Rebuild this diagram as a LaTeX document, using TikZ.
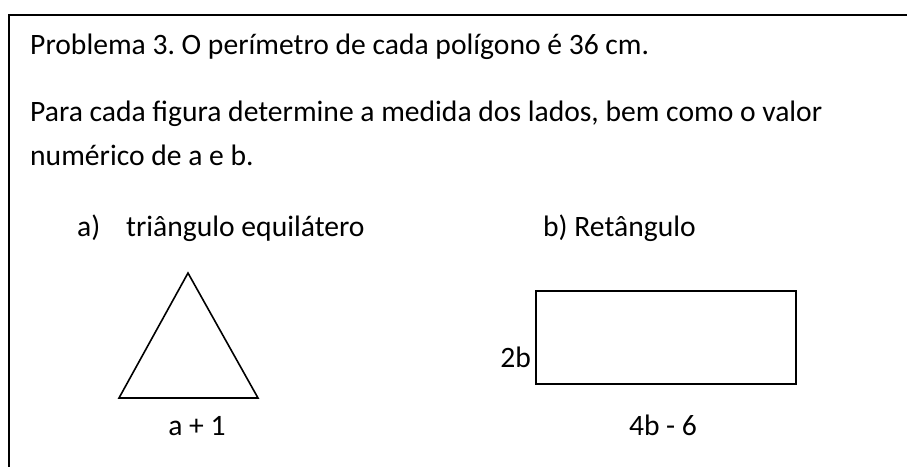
\documentclass[tikz,border=0pt]{standalone}
\usepackage{fontspec}
\setmainfont{Carlito}
\usetikzlibrary{positioning}
\frenchspacing

\begin{document}
\begin{tikzpicture}[x=1pt, y=-1pt,
    txt/.style={anchor=base west, inner sep=0pt, font=\fontsize{29.6}{36}\selectfont},
    lbl/.style={anchor=base, inner sep=0pt, font=\fontsize{29.6}{36}\selectfont},
    frame line/.style={line width=2.2pt},
    shape line/.style={line width=1.6pt, line join=miter}]

\useasboundingbox (0,0) rectangle (907,466);

% frame, cut off at right and bottom
\coordinate (frame bl) at (9,467);
\coordinate (frame tl) at (9,15);
\coordinate (frame tr) at (908,15);
\draw[frame line] (frame bl) -- (frame tl) -- (frame tr);

% statement
\node[txt] (title) at (30,54) {Problema 3. O perímetro de cada polígono é 36 cm.};
\node[txt] (task1) at (30,121) {Para cada figura determine a medida dos lados, bem como o valor};
\node[txt] (task2) at (30,165) {numérico de a e b.};
\node[txt] (item a) at (77,236) {a)};
\node[txt] (name a) at (126,236) {triângulo equilátero};
\node[txt] (item b) at (543,236) {b) Retângulo};

% triangle
\coordinate (tri left) at (119,398);
\coordinate (tri right) at (258,398);
\coordinate (tri top) at (188,273);
\draw[shape line] (tri left) -- (tri right) -- (tri top) -- cycle;
\node[lbl] (base a) at (197,435) {a + 1};

% rectangle
\coordinate (rect tl) at (536,291);
\coordinate (rect br) at (796,384);
\draw[shape line] (rect tl) rectangle (rect br);
\node[lbl, anchor=base east] (side b) at (531,367) {2b};
\node[lbl] (base b) at (663,435) {4b - 6};

\end{tikzpicture}
\end{document}
